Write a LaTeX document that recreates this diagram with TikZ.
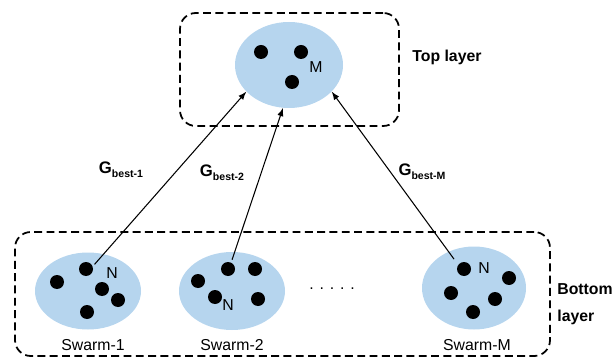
\documentclass[tikz,border=0pt]{standalone}
\usepackage{fontspec}
\setmainfont{Liberation Sans}
\usepackage{tikz}
\usetikzlibrary{arrows.meta,calc,positioning,shapes.geometric}
\definecolor{swarmblue}{RGB}{182,213,238}

\begin{document}
\begin{tikzpicture}[
  swarm/.style={ellipse, fill=swarmblue, inner sep=0pt},
  layerbox/.style={draw, dashed, dash pattern=on 4.5pt off 2.5pt, line width=1pt, rounded corners=9pt, inner sep=0pt},
  lbl/.style={inner sep=0pt, font=\fontsize{9}{10}\selectfont},
  blbl/.style={inner sep=0pt, font=\fontsize{9}{10}\selectfont\bfseries},
  gbest/.style={inner sep=0pt, font=\fontsize{9.5}{10}\selectfont\bfseries}]

\useasboundingbox (0,0) rectangle (12.28,7.16);

% Livelli
\node[layerbox, minimum width=4.38cm, minimum height=2.26cm] (topbox) at (5.79,5.77) {};
\node[layerbox, minimum width=10.70cm, minimum height=2.48cm] (botbox) at (5.65,1.28) {};
\node[blbl, anchor=west] (toplbl) at (8.24,6.02) {Top layer};
\node[blbl, anchor=west] (botlbl) at (11.14,1.38) {Bottom};
\node[blbl, anchor=west] (botlbl2) at (11.14,0.82) {layer};

% Sciami
\node[swarm, minimum width=2.16cm, minimum height=1.72cm] (top) at (5.78,5.86) {};
\node[swarm, minimum width=2.12cm, minimum height=1.54cm] (sw1) at (1.76,1.34) {};
\node[swarm, minimum width=2.12cm, minimum height=1.56cm] (sw2) at (4.64,1.34) {};
\node[swarm, minimum width=2.08cm, minimum height=1.66cm] (swM) at (9.48,1.40) {};

% Particelle
\foreach \p in {(5.22,6.12),(6.02,6.12),(5.84,5.52),
                (1.14,1.52),(1.72,1.78),(2.04,1.38),(2.36,1.16),(1.74,0.92),
                (3.96,1.54),(4.56,1.78),(5.10,1.78),(4.30,1.22),(5.16,1.18),
                (9.28,1.78),(10.18,1.60),(9.02,1.30),(9.90,1.18),(9.46,0.92)}
  \fill \p circle (0.14);

\node[lbl] (nm) at (6.32,5.82) {M};
\node[lbl] (n1) at (2.24,1.70) {N};
\node[lbl] (n2) at (4.56,1.06) {N};
\node[lbl] (nM) at (9.68,1.80) {N};

\node[lbl] (sw1lbl) at (1.86,0.26) {Swarm-1};
\node[lbl] (sw2lbl) at (4.64,0.26) {Swarm-2};
\node[lbl] (swMlbl) at (9.54,0.26) {Swarm-M};
\node[lbl, anchor=base] (dots) at (6.64,1.38) {. . . . .};

% Frecce verso il livello superiore
\draw[-latex, line width=0.6pt, shorten <=-0.28cm] (sw1.67) -- (top.212);
\draw[-latex, line width=0.6pt, shorten <=-0.17cm] (sw2.86) -- (top.262);
\draw[-latex, line width=0.6pt, shorten <=-0.19cm] (swM.125) -- (top.328);

\node[gbest] (g1) at (2.42,3.76) {G\raisebox{-0.45ex}{\fontsize{6}{6}\selectfont best-1}};
\node[gbest] (g2) at (4.44,3.70) {G\raisebox{-0.45ex}{\fontsize{6}{6}\selectfont best-2}};
\node[gbest] (gM) at (8.44,3.72) {G\raisebox{-0.45ex}{\fontsize{6}{6}\selectfont best-M}};

\end{tikzpicture}
\end{document}
